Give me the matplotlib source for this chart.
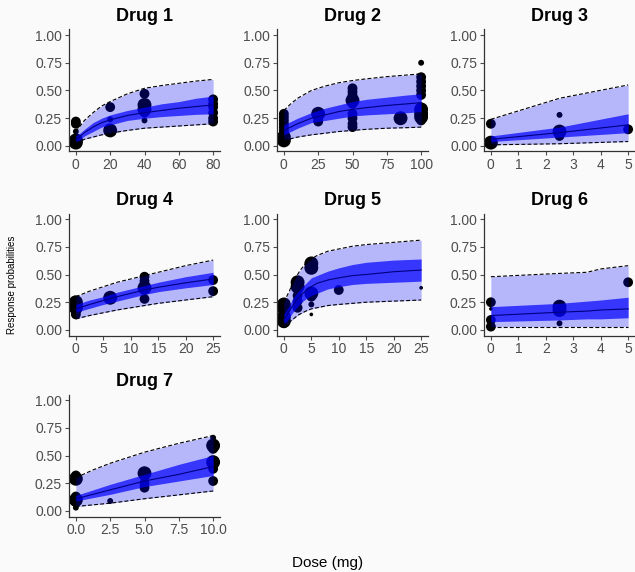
import matplotlib
matplotlib.use("Agg")
import matplotlib.pyplot as plt

plt.rcParams['font.family'] = ['Liberation Sans', 'DejaVu Sans']

BG = '#fafafa'

titles = ["Drug 1", "Drug 2", "Drug 3", "Drug 4", "Drug 5", "Drug 6", "Drug 7"]

# model curves: dose grid, prediction interval (lo/hi), credible interval (lo/hi), median
curve_dose = [
    [0, 2, 5, 10, 15, 20, 30, 40, 50, 60, 70, 80],
    [0, 5, 10, 20, 30, 40, 50, 60, 75, 90, 100],
    [0, 2.5, 5],
    [0, 2.5, 5, 7.5, 10, 12.5, 15, 20, 25],
    [0, 0.5, 1, 1.5, 2, 2.5, 3, 4, 5, 6, 8, 10, 12.5, 15, 20, 25],
    [0, 2.5, 3.5, 4, 5],
    [0, 1.25, 2.5, 5, 7.5, 10],
]
pi_hi = [
    [0.13, 0.17, 0.23, 0.30, 0.36, 0.40, 0.47, 0.52, 0.545, 0.565, 0.585, 0.60],
    [0.32, 0.38, 0.43, 0.50, 0.54, 0.57, 0.59, 0.605, 0.625, 0.64, 0.65],
    [0.24, 0.43, 0.55],
    [0.30, 0.35, 0.39, 0.43, 0.46, 0.49, 0.52, 0.58, 0.63],
    [0.25, 0.30, 0.35, 0.41, 0.46, 0.50, 0.54, 0.60, 0.64, 0.67, 0.71, 0.73, 0.755,
     0.77, 0.79, 0.81],
    [0.48, 0.51, 0.52, 0.55, 0.58],
    [0.30, 0.37, 0.43, 0.53, 0.61, 0.68],
]
pi_lo = [
    [0.03, 0.04, 0.06, 0.08, 0.10, 0.115, 0.14, 0.16, 0.17, 0.18, 0.19, 0.20],
    [0.05, 0.065, 0.08, 0.10, 0.115, 0.13, 0.14, 0.15, 0.16, 0.165, 0.17],
    [0.01, 0.02, 0.04],
    [0.10, 0.13, 0.155, 0.18, 0.20, 0.22, 0.24, 0.27, 0.30],
    [0.03, 0.05, 0.07, 0.09, 0.11, 0.13, 0.145, 0.17, 0.19, 0.20, 0.22, 0.23, 0.24,
     0.25, 0.26, 0.27],
    [0.03, 0.03, 0.03, 0.03, 0.03],
    [0.04, 0.055, 0.07, 0.11, 0.145, 0.18],
]
ci_hi = [
    [0.09, 0.11, 0.15, 0.21, 0.25, 0.28, 0.32, 0.35, 0.38, 0.40, 0.43, 0.45],
    [0.19, 0.22, 0.25, 0.30, 0.34, 0.37, 0.40, 0.42, 0.44, 0.46, 0.47],
    [0.09, 0.17, 0.29],
    [0.23, 0.27, 0.30, 0.34, 0.37, 0.40, 0.43, 0.48, 0.52],
    [0.14, 0.18, 0.22, 0.27, 0.31, 0.34, 0.37, 0.42, 0.47, 0.49, 0.53, 0.56, 0.59,
     0.61, 0.63, 0.64],
    [0.21, 0.24, 0.26, 0.27, 0.295],
    [0.14, 0.19, 0.24, 0.33, 0.42, 0.50],
]
ci_lo = [
    [0.04, 0.055, 0.09, 0.13, 0.17, 0.19, 0.23, 0.25, 0.265, 0.275, 0.285, 0.29],
    [0.10, 0.13, 0.16, 0.21, 0.23, 0.25, 0.27, 0.28, 0.29, 0.30, 0.31],
    [0.04, 0.08, 0.12],
    [0.16, 0.195, 0.23, 0.26, 0.29, 0.32, 0.345, 0.38, 0.41],
    [0.06, 0.08, 0.11, 0.15, 0.18, 0.21, 0.24, 0.28, 0.31, 0.33, 0.37, 0.39, 0.41,
     0.42, 0.43, 0.44],
    [0.075, 0.09, 0.10, 0.10, 0.11],
    [0.09, 0.12, 0.15, 0.22, 0.27, 0.32],
]
median = [
    [0.06, 0.08, 0.12, 0.17, 0.21, 0.235, 0.275, 0.30, 0.32, 0.34, 0.355, 0.37],
    [0.14, 0.17, 0.20, 0.25, 0.28, 0.31, 0.33, 0.345, 0.365, 0.38, 0.39],
    [0.06, 0.12, 0.19],
    [0.19, 0.23, 0.265, 0.30, 0.33, 0.36, 0.385, 0.425, 0.46],
    [0.09, 0.13, 0.17, 0.21, 0.25, 0.28, 0.31, 0.355, 0.39, 0.42, 0.45, 0.47, 0.49,
     0.50, 0.525, 0.54],
    [0.13, 0.16, 0.17, 0.18, 0.19],
    [0.11, 0.15, 0.19, 0.27, 0.33, 0.40],
]

# observed data: dose, response proportion, point size class
obs_dose = [
    [0, 0, 0, 0, 0, 20, 20, 20, 40, 40, 40, 40, 40, 80, 80, 80, 80, 80, 80],
    [0, 0, 0, 0, 0, 0, 0, 0, 0, 25, 25, 25, 50, 50, 50, 50, 50, 50, 50, 50, 50,
     85, 100, 100, 100, 100, 100, 100, 100, 100, 100, 100],
    [0, 0, 2.5, 2.5, 2.5, 5],
    [0, 0, 0, 0, 0, 6.25, 12.5, 12.5, 12.5, 12.5, 12.5, 25, 25],
    [0, 0, 0, 0, 0, 2.5, 2.5, 2.5, 2.5, 2.5, 5, 5, 5, 5, 5, 5, 10, 25],
    [0, 0, 0, 0, 2.5, 2.5, 2.5, 5],
    [0, 0, 0, 0, 0, 0, 2.5, 5, 5, 5, 5, 10, 10, 10, 10, 10, 10, 10],
]
obs_resp = [
    [0.22, 0.20, 0.13, 0.05, 0.03, 0.35, 0.24, 0.14, 0.47, 0.37, 0.33, 0.30, 0.23,
     0.42, 0.38, 0.35, 0.30, 0.25, 0.22],
    [0.29, 0.26, 0.23, 0.20, 0.17, 0.14, 0.11, 0.08, 0.05, 0.29, 0.25, 0.22,
     0.52, 0.49, 0.46, 0.41, 0.38, 0.29, 0.25, 0.20, 0.17,
     0.25, 0.75, 0.62, 0.58, 0.54, 0.50, 0.46, 0.33, 0.29, 0.26, 0.23],
    [0.20, 0.03, 0.28, 0.13, 0.09, 0.15],
    [0.25, 0.22, 0.20, 0.17, 0.14, 0.29, 0.48, 0.44, 0.40, 0.38, 0.28, 0.45, 0.35],
    [0.23, 0.20, 0.12, 0.08, 0.06, 0.43, 0.39, 0.31, 0.26, 0.20,
     0.60, 0.56, 0.33, 0.30, 0.23, 0.14, 0.36, 0.38],
    [0.25, 0.19, 0.09, 0.03, 0.21, 0.18, 0.06, 0.43],
    [0.32, 0.29, 0.13, 0.10, 0.08, 0.03, 0.09, 0.34, 0.31, 0.25, 0.21,
     0.66, 0.59, 0.56, 0.44, 0.41, 0.38, 0.27],
]
obs_size = [
    [2, 2, 1, 3, 3, 2, 1, 3, 2, 3, 3, 2, 1, 2, 2, 2, 2, 2, 2],
    [2, 2, 2, 2, 2, 2, 2, 3, 3, 3, 2, 2, 2, 2, 2, 3, 2, 2, 2, 2, 2,
     3, 1, 2, 2, 2, 2, 2, 3, 3, 3, 2],
    [2, 3, 1, 3, 2, 2],
    [3, 3, 3, 2, 2, 3, 2, 2, 2, 3, 2, 2, 2],
    [3, 3, 3, 3, 2, 3, 3, 2, 2, 2, 3, 3, 3, 2, 1, 0.5, 2, 0.5],
    [2, 0.5, 2, 2, 3, 3, 1, 2],
    [2, 3, 2, 3, 2, 1, 1, 3, 2, 2, 2, 1, 3, 2, 3, 2, 2, 2],
]

x_ticks = [
    [0, 20, 40, 60, 80],
    [0, 25, 50, 75, 100],
    [0, 1, 2, 3, 4, 5],
    [0, 5, 10, 15, 20, 25],
    [0, 5, 10, 15, 20, 25],
    [0, 1, 2, 3, 4, 5],
    [0, 2.5, 5, 7.5, 10],
]
x_ticklabels = [
    ["0", "20", "40", "60", "80"],
    ["0", "25", "50", "75", "100"],
    ["0", "1", "2", "3", "4", "5"],
    ["0", "5", "10", "15", "20", "25"],
    ["0", "5", "10", "15", "20", "25"],
    ["0", "1", "2", "3", "4", "5"],
    ["0.0", "2.5", "5.0", "7.5", "10.0"],
]
y_ticks = [0, 0.25, 0.5, 0.75, 1.0]
y_ticklabels = ["0.00", "0.25", "0.50", "0.75", "1.00"]

W, H = 635, 572
fig = plt.figure(figsize=(W / 100, H / 100), dpi=100, facecolor=BG)

lefts = [69, 277, 484]
tops = [29.5, 213.5, 394.5]
aw, ah = 151, 122
size_map = {0.5: 7, 1: 18, 2: 50, 3: 100}

for i in range(7):
    r, c = divmod(i, 3)
    ax = fig.add_axes([lefts[c] / W, 1 - (tops[r] + ah) / H, aw / W, ah / H])
    ax.set_facecolor(BG)
    xmax = max(curve_dose[i])
    ax.scatter(obs_dose[i], obs_resp[i], s=[size_map[s] for s in obs_size[i]],
               color='black', linewidths=0, zorder=1)
    ax.fill_between(curve_dose[i], pi_lo[i], pi_hi[i], color='#0000ff', alpha=0.27,
                    linewidth=0, zorder=2)
    ax.plot(curve_dose[i], pi_hi[i], color='black', lw=0.8, ls=(0, (3.5, 2)), zorder=3)
    ax.plot(curve_dose[i], pi_lo[i], color='black', lw=0.8, ls=(0, (3.5, 2)), zorder=3)
    ax.fill_between(curve_dose[i], ci_lo[i], ci_hi[i], color='#0000ff', alpha=0.7,
                    linewidth=0, zorder=4)
    ax.plot(curve_dose[i], median[i], color='#000080', lw=0.8, zorder=5)
    ax.set_xlim(-0.05 * xmax, 1.05 * xmax)
    ax.set_ylim(-0.05, 1.05)
    ax.set_xticks(x_ticks[i])
    ax.set_xticklabels(x_ticklabels[i])
    ax.set_yticks(y_ticks)
    ax.set_yticklabels(y_ticklabels)
    ax.tick_params(axis='both', labelsize=10, colors='#4d4d4d', length=3, width=0.8, pad=2)
    for s in ['top', 'right']:
        ax.spines[s].set_visible(False)
    for s in ['left', 'bottom']:
        ax.spines[s].set_color('#333333')
        ax.spines[s].set_linewidth(0.9)
    ax.set_title(titles[i], fontsize=13, fontweight='bold', pad=6)

fig.text(12 / W, 1 - 285 / H, "Response probabilities", rotation=90, fontsize=7,
         ha='center', va='center')
fig.text(328 / W, 1 - 563 / H, "Dose (mg)", fontsize=11, ha='center', va='center')

fig.savefig("out.png", dpi=100, facecolor=BG)
